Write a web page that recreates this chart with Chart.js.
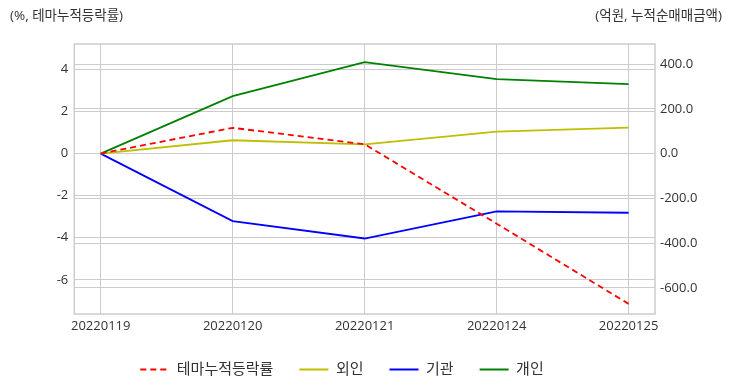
<!DOCTYPE html>
<html>
<head>
<meta charset="utf-8">
<script src="https://cdn.jsdelivr.net/npm/chart.js@4/dist/chart.umd.min.js"></script>
<style>
  html, body { margin: 0; padding: 0; background: #fff; }
  #wrap { width: 732px; height: 392px; position: relative; }
</style>
</head>
<body>
<div id="wrap"><canvas id="c" width="732" height="392"></canvas></div>
<script>
const categories = ['20220119', '20220120', '20220121', '20220124', '20220125'];
const themeRate = [0, 1.22, 0.44, -3.33, -7.14];     // %, 테마누적등락률 (left axis)
const foreign = [0, 59.6, 41.6, 98.5, 116.4];       // 억원, 외인 (right axis)
const institution = [0, -301.8, -379.3, -258.4, -264.2]; // 억원, 기관
const individual = [0, 256.6, 408.9, 332.7, 310.3];  // 억원, 개인
const leftTicks = [4, 2, 0, -2, -4, -6];
const rightTicks = [400, 200, 0, -200, -400, -600];
const leftTitle = '(%, 테마누적등락률)';
const rightTitle = '(억원, 누적순매매금액)';

const FONT = "'Open Sans', 'Noto Sans CJK KR', sans-serif";
const toPts = arr => arr.map((v, i) => ({ x: i, y: v }));

const decor = {
  id: 'decor',
  afterLayout(chart) {
    if (chart.legend) { chart.legend.right = chart.legend.right - 48; }
  },
  beforeDraw(chart) {
    const ctx = chart.ctx;
    ctx.save();
    ctx.fillStyle = '#ffffff';
    ctx.fillRect(0, 0, chart.width, chart.height);
    ctx.restore();
  },
  afterDraw(chart) {
    const ctx = chart.ctx;
    const a = chart.chartArea;
    ctx.save();
    ctx.strokeStyle = '#cccccc';
    ctx.lineWidth = 1.5;
    ctx.strokeRect(a.left, a.top, a.right - a.left, a.bottom - a.top);
    ctx.fillStyle = '#333333';
    ctx.font = "13.5px " + FONT;
    ctx.textBaseline = 'middle';
    ctx.textAlign = 'left';
    ctx.fillText(leftTitle, 10, 16);
    ctx.textAlign = 'right';
    ctx.fillText(rightTitle, 722, 16);
    ctx.restore();
  }
};

new Chart(document.getElementById('c'), {
  type: 'line',
  data: {
    datasets: [
      { label: '테마누적등락률', data: toPts(themeRate), yAxisID: 'y', borderColor: '#ff0000', backgroundColor: '#ff0000', borderDash: [6, 4], borderWidth: 1.8 },
      { label: '외인', data: toPts(foreign), yAxisID: 'y1', borderColor: '#bfbf00', backgroundColor: '#bfbf00', borderWidth: 1.8 },
      { label: '기관', data: toPts(institution), yAxisID: 'y1', borderColor: '#0000ff', backgroundColor: '#0000ff', borderWidth: 1.8 },
      { label: '개인', data: toPts(individual), yAxisID: 'y1', borderColor: '#008000', backgroundColor: '#008000', borderWidth: 1.8 }
    ]
  },
  options: {
    responsive: false,
    animation: false,
    devicePixelRatio: 1,
    elements: { point: { radius: 0, hoverRadius: 0 }, line: { tension: 0 } },
    layout: { padding: { top: 44, left: 0, right: 0, bottom: 5 } },
    plugins: {
      tooltip: { enabled: false },
      legend: {
        position: 'bottom',
        labels: {
          usePointStyle: true,
          pointStyle: 'line',
          pointStyleWidth: 29,
          boxWidth: 38,
          boxHeight: 13,
          padding: 26,
          color: '#333333',
          font: { family: FONT, size: 15 },
          generateLabels: chart => {
            const items = Chart.defaults.plugins.legend.labels.generateLabels(chart);
            items.forEach(it => {
              const ds = chart.data.datasets[it.datasetIndex];
              it.lineDash = ds.borderDash || [];
              it.lineWidth = 2;
              it.strokeStyle = ds.borderColor;
            });
            return items;
          }
        }
      }
    },
    scales: {
      x: {
        type: 'linear',
        min: -0.2,
        max: 4.2,
        afterBuildTicks: s => { s.ticks = categories.map((c, i) => ({ value: i })); },
        afterFit: s => { s.height = 22; },
        ticks: {
          includeBounds: false,
          autoSkip: false,
          maxRotation: 0,
          padding: 4,
          color: '#333333',
          font: { family: FONT, size: 13 },
          callback: v => categories[v]
        },
        grid: { color: '#cccccc', lineWidth: 1, drawTicks: false },
        border: { display: false }
      },
      y: {
        position: 'left',
        min: -7.62,
        max: 5.2,
        afterBuildTicks: s => { s.ticks = leftTicks.map(v => ({ value: v })); },
        afterFit: s => { s.width = 74.3; },
        ticks: { includeBounds: false, padding: 6, color: '#333333', font: { family: FONT, size: 13 } },
        grid: { color: '#cccccc', lineWidth: 1, drawTicks: false },
        border: { display: false }
      },
      y1: {
        position: 'right',
        min: -716.5,
        max: 489.5,
        afterBuildTicks: s => { s.ticks = rightTicks.map(v => ({ value: v })); },
        afterFit: s => { s.width = 77; },
        ticks: { includeBounds: false, padding: 5, color: '#333333', font: { family: FONT, size: 13 }, callback: v => Number(v).toFixed(1) },
        grid: { color: '#cccccc', lineWidth: 1, drawTicks: false, drawOnChartArea: true },
        border: { display: false }
      }
    }
  },
  plugins: [decor]
});
</script>
</body>
</html>
